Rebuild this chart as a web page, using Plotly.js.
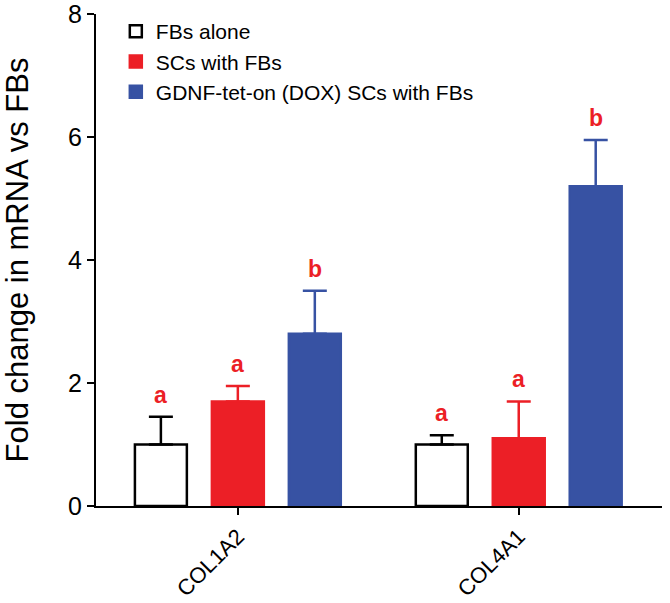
<!DOCTYPE html>
<html>
<head>
<meta charset="utf-8">
<script src="https://cdn.plot.ly/plotly-3.0.1.min.js"></script>
<style>
  body { margin: 0; background: #fff; }
  #chart { width: 670px; height: 603px; }
</style>
</head>
<body>
<div id="chart"></div>
<script>
// genes on the x axis
var genes = ['COL1A2', 'COL4A1'];

// mean fold change per group
var fbsAlone = [1.0, 1.0];
var scsWithFbs = [1.7, 1.1];
var gdnfScs = [2.8, 5.2];

// upper error (SEM)
var fbsAloneErr = [0.45, 0.15];
var scsWithFbsErr = [0.25, 0.6];
var gdnfScsErr = [0.7, 0.75];

// significance letters
var fbsAloneSig = ['a', 'a'];
var scsWithFbsSig = ['a', 'a'];
var gdnfScsSig = ['b', 'b'];

var red = '#ec1f26';
var blue = '#3752a3';

function makeTrace(name, y, err, fill, line) {
    return {
        type: 'bar',
        name: name,
        x: genes,
        y: y,
        marker: { color: fill, line: { color: line, width: 2.5 } },
        error_y: {
            type: 'data',
            array: err,
            arrayminus: [0, 0],
            symmetric: false,
            color: line,
            thickness: 2.5,
            width: 12
        }
    };
}

var data = [
    makeTrace('FBs alone', fbsAlone, fbsAloneErr, '#ffffff', '#000000'),
    makeTrace('SCs with FBs', scsWithFbs, scsWithFbsErr, red, red),
    makeTrace('GDNF-tet-on (DOX) SCs with FBs', gdnfScs, gdnfScsErr, blue, blue)
];

// letters above each error bar
var groups = [
    { y: fbsAlone, e: fbsAloneErr, s: fbsAloneSig, off: -0.274 },
    { y: scsWithFbs, e: scsWithFbsErr, s: scsWithFbsSig, off: 0 },
    { y: gdnfScs, e: gdnfScsErr, s: gdnfScsSig, off: 0.274 }
];
var annotations = [];
groups.forEach(function (g) {
    for (var i = 0; i < genes.length; i++) {
        annotations.push({
            x: i + g.off,
            y: g.y[i] + g.e[i],
            xref: 'x', yref: 'y',
            text: '<b>' + g.s[i] + '</b>',
            showarrow: false,
            yanchor: 'bottom',
            yshift: 7,
            font: { family: 'Liberation Sans, Arial, sans-serif', size: 23, color: red }
        });
    }
});

var layout = {
    width: 670,
    height: 603,
    margin: { l: 96, r: 8, t: 14, b: 97 },
    paper_bgcolor: '#ffffff',
    plot_bgcolor: '#ffffff',
    font: { family: 'Liberation Sans, Arial, sans-serif', color: '#000' },
    barmode: 'group',
    bargap: 0.178,
    bargroupgap: 0.325,
    showlegend: true,
    legend: {
        x: 0.035, y: 1.006, xanchor: 'left', yanchor: 'top',
        font: { size: 21 },
        bgcolor: 'rgba(0,0,0,0)',
        tracegroupgap: 0,
        itemwidth: 30
    },
    xaxis: {
        type: 'category',
        range: [-0.505, 1.51],
        showline: true,
        linecolor: '#000',
        linewidth: 2,
        ticks: 'outside',
        ticklen: 7,
        tickwidth: 2,
        tickcolor: '#000',
        tickangle: -45,
        tickfont: { size: 22 },
        ticklabeloverflow: 'allow',
        showgrid: false,
        zeroline: false,
        fixedrange: true
    },
    yaxis: {
        range: [0, 8],
        tickvals: [0, 2, 4, 6, 8],
        showline: true,
        linecolor: '#000',
        linewidth: 2,
        ticks: 'outside',
        ticklen: 7,
        tickwidth: 2,
        tickcolor: '#000',
        tickfont: { size: 25 },
        ticklabeloverflow: 'allow',
        showgrid: false,
        zeroline: false,
        title: { text: 'Fold change in mRNA vs FBs', font: { size: 31 }, standoff: 34 }
    },
    annotations: annotations
};

Plotly.newPlot('chart', data, layout, { displayModeBar: false, staticPlot: true });
</script>
</body>
</html>
